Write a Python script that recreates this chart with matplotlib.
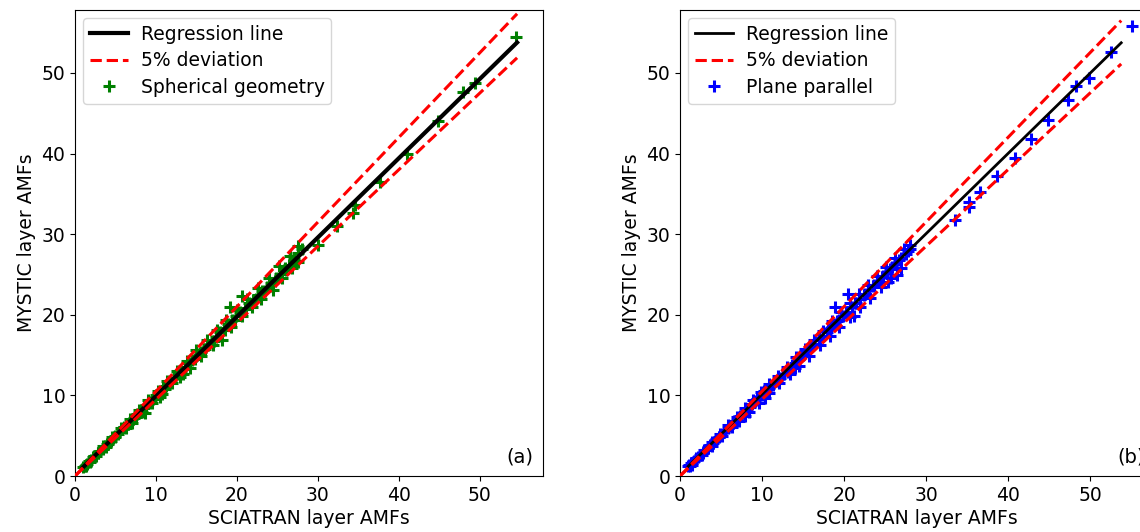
import numpy as np
import matplotlib
matplotlib.use('Agg')
import matplotlib.pyplot as plt

# spherical geometry (panel a): SCIATRAN x, MYSTIC y
sph_x = [1.0, 1.2, 1.5, 1.7, 2.0, 2.2, 2.5, 2.8, 3.1, 3.4, 3.7, 4.0, 4.4, 4.7, 5.0, 5.4,
         5.8, 6.1, 6.5, 6.9, 7.3, 7.7, 8.1, 8.5, 8.8, 9.2, 9.6, 10.0, 10.5, 10.9, 11.3,
         11.8, 12.2, 12.7, 13.1, 13.6, 14.0, 14.5, 15.0, 15.5, 15.9, 16.4, 16.9, 17.4,
         17.9, 18.4, 18.9, 19.4, 19.9, 20.4, 21.0, 21.5, 22.0, 22.6, 23.1, 23.7, 24.2,
         24.8, 25.3, 25.9, 26.4, 27.0, 27.5, 28.0,
         1.3, 2.4, 3.5, 4.6, 5.7, 6.8, 7.9, 9.0, 10.2, 11.4, 12.6, 13.8, 15.0, 16.3, 17.5,
         18.7, 20.0, 21.3, 22.6, 23.9, 25.2, 26.5, 27.6,
         1.4, 2.6, 3.8, 5.0, 6.3, 7.0, 8.3, 9.5, 10.8, 12.0, 13.4, 14.2, 15.6, 17.0, 18.1,
         19.3, 20.6, 21.8, 23.0, 24.4, 25.6, 26.8, 27.5,
         1.8, 2.9, 4.1, 5.3, 6.6, 7.5, 8.8, 9.9, 11.1, 12.4, 13.6, 14.8, 16.1, 17.2, 18.5,
         19.7, 21.1, 22.3, 23.5, 24.7, 26.0, 27.2,
         8.6, 10.5, 13.0, 19.1, 20.6, 30.0, 32.3, 34.3, 34.6, 37.7, 41.0, 44.8, 47.9, 49.4, 54.5]
sph_y = [1.1, 1.2, 1.5, 1.8, 2.0, 2.3, 2.5, 2.8, 3.1, 3.4, 3.7, 4.0, 4.4, 4.7, 5.0, 5.4,
         5.8, 6.1, 6.5, 6.8, 7.2, 7.7, 8.0, 8.4, 8.8, 9.2, 9.6, 10.0, 10.4, 10.9, 11.2,
         11.7, 12.1, 12.6, 13.0, 13.5, 14.0, 14.4, 14.9, 15.4, 15.8, 16.3, 16.8, 17.3,
         17.8, 18.3, 18.8, 19.3, 19.8, 20.3, 20.8, 21.4, 21.8, 22.4, 23.0, 23.5, 24.0,
         24.6, 25.1, 25.8, 26.2, 26.9, 27.6, 28.2,
         1.4, 2.5, 3.7, 4.8, 6.0, 7.1, 8.2, 9.4, 10.6, 11.8, 13.0, 14.3, 15.6, 16.9, 18.1,
         19.3, 20.6, 21.9, 23.3, 24.6, 26.0, 27.3, 28.5,
         1.3, 2.5, 3.6, 4.8, 6.0, 6.6, 7.9, 9.0, 10.2, 11.5, 12.7, 13.4, 14.9, 16.3, 16.9,
         18.5, 19.8, 20.9, 22.0, 23.1, 24.6, 25.8, 26.5,
         1.7, 2.8, 4.0, 5.2, 6.4, 7.3, 8.6, 9.7, 10.8, 12.1, 13.3, 14.5, 15.8, 16.8, 18.1,
         19.3, 20.7, 21.9, 23.0, 24.2, 25.5, 26.7,
         7.8, 9.8, 12.3, 21.0, 22.3, 28.7, 31.0, 32.6, 33.6, 36.5, 40.0, 44.0, 47.6, 48.8, 54.5]

# plane parallel (panel b)
pp_x = [1.0, 1.2, 1.5, 1.7, 2.0, 2.2, 2.5, 2.8, 3.1, 3.4, 3.7, 4.0, 4.4, 4.7, 5.0, 5.4,
        5.8, 6.1, 6.5, 6.9, 7.3, 7.7, 8.1, 8.5, 8.8, 9.2, 9.6, 10.0, 10.5, 10.9, 11.3,
        11.8, 12.2, 12.7, 13.1, 13.6, 14.0, 14.5, 15.0, 15.5, 15.9, 16.4, 16.9, 17.4,
        17.9, 18.4, 18.9, 19.4, 19.9, 20.4, 21.0, 21.5, 22.0, 22.6, 23.1, 23.7, 24.2,
        24.8, 25.3, 25.9, 26.4, 27.0, 27.5, 28.0,
        1.1, 1.9, 2.9, 3.9, 4.9, 5.9, 6.9, 7.9, 8.9, 9.9, 10.9, 11.9, 13.0, 14.1, 15.2,
        16.3, 17.4, 18.5, 19.6, 20.7, 21.8, 22.9, 24.0, 25.1, 26.2, 27.3,
        1.5, 2.7, 3.9, 5.1, 6.4, 7.2, 8.4, 9.6, 10.9, 12.1, 13.4, 14.5, 15.7, 17.1,
        19.4, 20.7, 22.0, 23.2, 24.5, 25.7, 26.9,
        1.4, 2.4, 3.4, 4.4, 5.5, 6.6, 7.6, 8.6, 9.4, 10.3, 11.5, 12.6, 13.7, 14.8, 16.0,
        17.0, 18.1, 19.1, 20.2, 21.3, 22.4, 23.5, 24.6, 25.6, 26.7, 27.8,
        7.9, 10.4, 13.2, 14.0, 18.3, 18.9, 20.5, 21.2, 25.4, 26.5, 28.0,
        33.5, 35.2, 35.3, 36.6, 38.7, 40.9, 42.8, 44.9, 47.3, 48.3, 49.9, 52.6, 55.1]
pp_y = [1.2, 1.3, 1.6, 1.8, 2.1, 2.3, 2.6, 2.9, 3.2, 3.5, 3.8, 4.1, 4.5, 4.8, 5.1, 5.5,
        5.9, 6.2, 6.6, 7.0, 7.4, 7.8, 8.2, 8.6, 8.9, 9.3, 9.7, 10.1, 10.5, 10.9, 11.3,
        11.8, 12.2, 12.7, 13.1, 13.6, 14.0, 14.5, 15.0, 15.5, 15.9, 16.4, 16.9, 17.4,
        17.9, 18.4, 18.9, 19.4, 19.9, 20.4, 21.0, 21.5, 22.0, 22.6, 23.1, 23.7, 24.2,
        24.8, 25.3, 25.9, 26.4, 27.0, 27.5, 28.1,
        1.4, 2.2, 3.2, 4.2, 5.2, 6.3, 7.3, 8.4, 9.4, 10.4, 11.4, 12.4, 13.5, 14.7, 15.8,
        16.9, 18.0, 19.2, 20.3, 21.5, 22.6, 23.7, 24.8, 25.9, 27.1, 28.2,
        1.4, 2.6, 3.7, 4.9, 6.1, 6.8, 7.9, 9.1, 10.3, 11.5, 12.7, 13.7, 14.9, 16.3,
        18.5, 19.7, 21.0, 22.1, 23.4, 24.6, 25.8,
        1.6, 2.6, 3.6, 4.6, 5.7, 6.8, 7.8, 8.8, 9.6, 10.5, 11.6, 12.7, 13.8, 14.9, 16.1,
        17.1, 18.2, 19.2, 20.3, 21.4, 22.5, 23.6, 24.7, 25.7, 26.8, 27.9,
        7.4, 9.7, 12.9, 13.4, 17.4, 21.0, 22.6, 19.8, 24.1, 24.9, 28.7,
        31.8, 33.4, 34.0, 35.2, 37.2, 39.5, 41.8, 44.2, 46.6, 48.4, 49.4, 52.6, 55.8]

# regression fits and line ranges
reg_a = (0.983, 0.1)
reg_b = (0.995, 0.2)
reg_a_range = (1.0, 54.6)
reg_b_range = (1.0, 53.8)
dev_a_end = 54.6
dev_b_end = 53.8
deviation = 0.05

plt.rcParams['font.family'] = ['DejaVu Sans']
plt.rcParams['font.size'] = 13.5

fig = plt.figure(figsize=(11.4, 5.32), dpi=100)
ax1 = fig.add_axes([75 / 1140, 56 / 532, 468 / 1140, 466 / 532])
ax2 = fig.add_axes([680 / 1140, 56 / 532, 474 / 1140, 466 / 532])


def panel(ax, xs, ys, reg, xr, dev_end, color, label, lw, tag):
    x = np.array(xr)
    ax.plot(x, reg[0] * x + reg[1], color='k', lw=lw, label='Regression line', zorder=3)
    xd = np.array([0, dev_end])
    ax.plot(xd, (1 + deviation) * xd, 'r--', lw=2.2, label='5% deviation', zorder=4)
    ax.plot(xd, (1 - deviation) * xd, 'r--', lw=2.2, zorder=4)
    ax.plot(xs, ys, '+', color=color, ms=8, mew=2.2, label=label, zorder=2)
    ax.set_xlim(0, 57.8)
    ax.set_ylim(0, 57.8)
    ax.set_xticks(range(0, 60, 10))
    ax.set_yticks(range(0, 60, 10))
    ax.set_xlabel('SCIATRAN layer AMFs', labelpad=3)
    ax.set_ylabel('MYSTIC layer AMFs')
    ax.legend(loc='upper left', fontsize=13.5, borderpad=0.35, labelspacing=0.4,
              handletextpad=0.7, borderaxespad=0.45)
    ax.text(0.98, 0.02, tag, transform=ax.transAxes, ha='right', va='bottom', fontsize=14)


panel(ax1, sph_x, sph_y, reg_a, reg_a_range, dev_a_end, 'green', 'Spherical geometry', 3, '(a)')
panel(ax2, pp_x, pp_y, reg_b, reg_b_range, dev_b_end, 'blue', 'Plane parallel', 2, '(b)')

fig.savefig('out.png', dpi=100)
